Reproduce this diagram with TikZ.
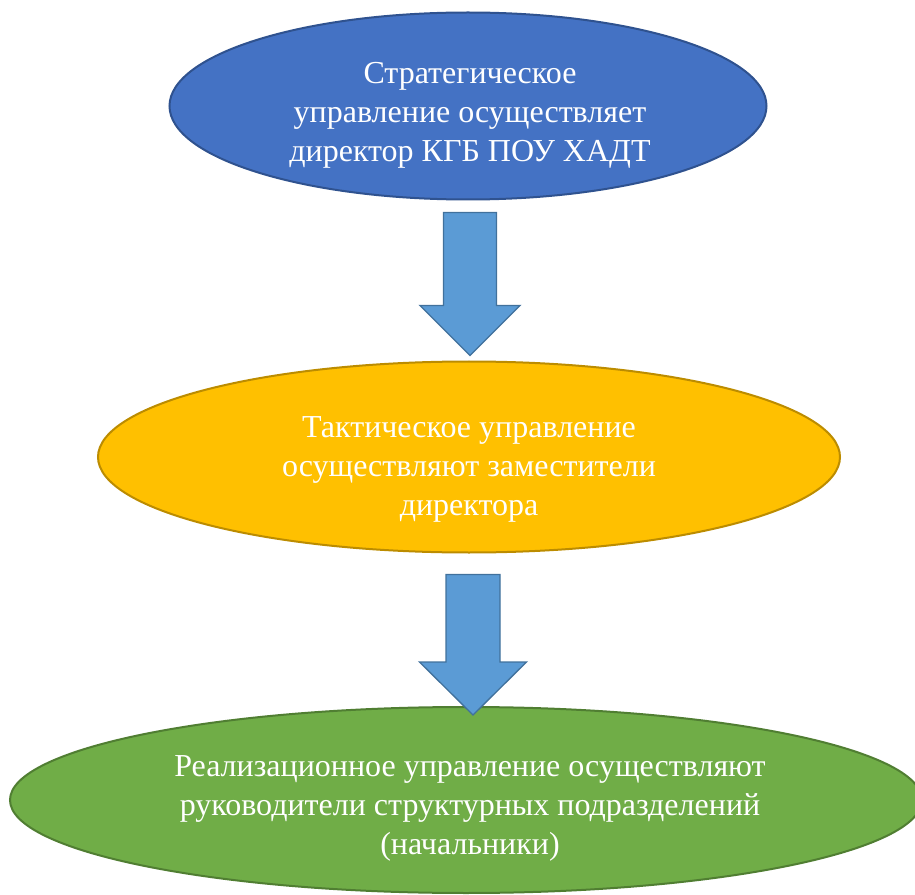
\documentclass[tikz,border=0pt]{standalone}
\usepackage{fontspec}
\setmainfont{Liberation Serif}
\usetikzlibrary{shapes.geometric,positioning,calc}
\definecolor{stratfill}{HTML}{4472C4}
\definecolor{stratedge}{HTML}{2F528F}
\definecolor{taktfill}{HTML}{FFC000}
\definecolor{taktedge}{HTML}{BC8C00}
\definecolor{realfill}{HTML}{70AD47}
\definecolor{realedge}{HTML}{507E32}
\definecolor{pfeilfill}{HTML}{5B9BD5}
\definecolor{pfeiledge}{HTML}{41719C}
\begin{document}
\begin{tikzpicture}[x=0.75pt,y=-0.75pt,
	ebene/.style={ellipse,line width=1.5pt,inner sep=0pt},
	ebenetext/.style={align=center,text=white,inner sep=0pt,font=\fontsize{24}{29.25}\selectfont},
	blockpfeil/.style={fill=pfeilfill,draw=pfeiledge,line width=1pt,line join=miter}]
	\useasboundingbox (0,0) rectangle (915,895);

	% Ellipsen zeichnen
	\node[ebene,fill=stratfill,draw=stratedge,minimum width=447.75pt,minimum height=140.25pt] (strat) at (468,106) {}; % Strategisch
	\node[ebene,fill=taktfill,draw=taktedge,minimum width=556.5pt,minimum height=143.25pt] (takt) at (469,457) {}; % Taktisch
	\node[ebene,fill=realfill,draw=realedge,minimum width=684pt,minimum height=139.5pt] (real) at (466,800) {}; % Realisierung

	% Beschriftung der Ellipsen
	\node[ebenetext] (strattext) at ($(strat)+(2,9)$) {Стратегическое\\управление осуществляет\\директор КГБ ПОУ ХАДТ};
	\node[ebenetext] (takttext) at ($(takt)+(0,12)$) {Тактическое управление\\осуществляют заместители\\директора};
	\node[ebenetext] (realtext) at ($(real)+(4,8)$) {Реализационное управление осуществляют\\руководители структурных подразделений\\(начальники)};

	% Pfeile zeichnen
	\coordinate (p1a) at ($(strat.south)+(2,12)$);
	\coordinate (p1b) at ($(takt.north)+(1,-5)$);
	\draw[blockpfeil] ($(p1a)+(-26.5,0)$) -- ($(p1a)+(26.5,0)$) -- ($(p1b)+(26.5,-50)$) -- ($(p1b)+(50,-50)$) -- (p1b) -- ($(p1b)+(-50,-50)$) -- ($(p1b)+(-26.5,-50)$) -- cycle;
	\coordinate (p2a) at ($(takt.south)+(4,21)$);
	\coordinate (p2b) at ($(real.north)+(7,9)$);
	\draw[blockpfeil] ($(p2a)+(-27,0)$) -- ($(p2a)+(27,0)$) -- ($(p2b)+(27,-53)$) -- ($(p2b)+(53.5,-53)$) -- (p2b) -- ($(p2b)+(-53.5,-53)$) -- ($(p2b)+(-27,-53)$) -- cycle;
\end{tikzpicture}
\end{document}
